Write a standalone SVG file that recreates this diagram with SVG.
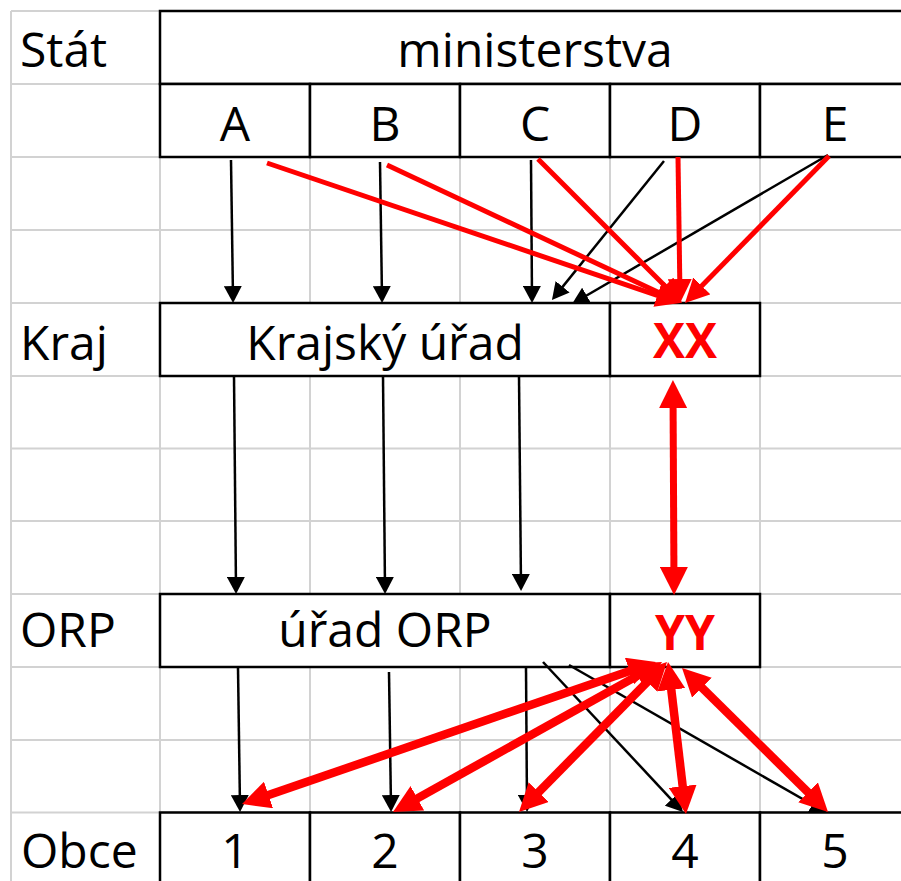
<svg xmlns="http://www.w3.org/2000/svg" width="901" height="881" viewBox="0 0 901 881">
<style>
.grid{stroke:#d2d2d2;stroke-width:2;fill:none}
.box{fill:#fff;stroke:#000;stroke-width:2.5}
.t{font-family:"Open Sans","Noto Sans","Liberation Sans",sans-serif;font-size:48px;fill:#000}
.c{text-anchor:middle}
.r{fill:#ff0000;font-weight:bold}
.blk{stroke:#000;stroke-width:2.5;fill:none;marker-end:url(#hb)}
.red{stroke:#ff0000;stroke-width:5;fill:none;marker-end:url(#hr)}
.red2{stroke:#ff0000;stroke-width:8.5;fill:none;marker-start:url(#hR);marker-end:url(#hR)}
</style>
<defs>
<marker id="hb" viewBox="0 0 17 18" refX="12" refY="9" markerWidth="17" markerHeight="18" markerUnits="userSpaceOnUse" orient="auto"><path d="M0,0 L17,9 L0,18 z" fill="#000"/></marker>
<marker id="hr" viewBox="0 0 24 24" refX="17" refY="12" markerWidth="24" markerHeight="24" markerUnits="userSpaceOnUse" orient="auto"><path d="M0,0 L24,12 L0,24 z" fill="#ff0000"/></marker>
<marker id="hR" viewBox="0 0 28 28" refX="18" refY="14" markerWidth="28" markerHeight="28" markerUnits="userSpaceOnUse" orient="auto-start-reverse"><path d="M0,0 L28,14 L0,28 z" fill="#ff0000"/></marker>
</defs>
<rect width="901" height="881" fill="#fff"/>
<g id="grid" class="grid">
<path d="M11,11V881M160,11V881M310,11V881M460,11V881M610,11V881M760,11V881"/>
<path d="M11,11H901M11,84H901M11,157H901M11,230H901M11,303H901M11,376H901M11,448.5H901M11,521H901M11,594H901M11,667H901M11,740H901M11,812.5H901"/>
</g>
<g id="labels">
<text class="t" x="20" y="67">Stát</text>
<text class="t" x="20" y="360">Kraj</text>
<text class="t" x="20" y="647">ORP</text>
<text class="t" x="21" y="868">Obce</text>
</g>
<g id="ministerstva"><rect class="box" x="160" y="11" width="760" height="73"/><text class="t c" x="535" y="67">ministerstva</text></g>
<g id="A"><rect class="box" x="160" y="84" width="150" height="73"/><text class="t c" x="235" y="141">A</text></g>
<g id="B"><rect class="box" x="310" y="84" width="150" height="73"/><text class="t c" x="385" y="141">B</text></g>
<g id="C"><rect class="box" x="460" y="84" width="150" height="73"/><text class="t c" x="535" y="141">C</text></g>
<g id="D"><rect class="box" x="610" y="84" width="150" height="73"/><text class="t c" x="685" y="141">D</text></g>
<g id="E"><rect class="box" x="760" y="84" width="160" height="73"/><text class="t c" x="835" y="141">E</text></g>
<g id="kraj"><rect class="box" x="160" y="303" width="450" height="73"/><text class="t c" x="385" y="360">Krajský úřad</text></g>
<g id="XX"><rect class="box" x="610" y="303" width="150" height="73"/><text class="t c r" x="685" y="358">XX</text></g>
<g id="orp"><rect class="box" x="160" y="594" width="450" height="73"/><text class="t c" x="385" y="647">úřad ORP</text></g>
<g id="YY"><rect class="box" x="610" y="594" width="150" height="73"/><text class="t c r" x="685" y="650">YY</text></g>
<g id="o1"><rect class="box" x="160" y="812.5" width="150" height="80"/><text class="t c" x="235" y="868">1</text></g>
<g id="o2"><rect class="box" x="310" y="812.5" width="150" height="80"/><text class="t c" x="385" y="868">2</text></g>
<g id="o3"><rect class="box" x="460" y="812.5" width="150" height="80"/><text class="t c" x="535" y="868">3</text></g>
<g id="o4"><rect class="box" x="610" y="812.5" width="150" height="80"/><text class="t c" x="685" y="868">4</text></g>
<g id="o5"><rect class="box" x="760" y="812.5" width="160" height="80"/><text class="t c" x="835" y="868">5</text></g>
<g id="connectors">
<path class="blk" d="M231,160 L233,298"/>
<path class="blk" d="M380,162 L382,298"/>
<path class="blk" d="M531,160 L532,298"/>
<path class="blk" d="M664,161 L555.1,296.1"/>
<path class="blk" d="M828,155 L576.3,301.5"/>
<path class="blk" d="M234,376 L236,589"/>
<path class="blk" d="M383,376 L385,589"/>
<path class="blk" d="M519,376 L521,586"/>
<path class="blk" d="M238,668 L240,807"/>
<path class="blk" d="M389,672 L391,807"/>
<path class="blk" d="M526,668 L527,807"/>
<path class="blk" d="M543,662 L679.6,808.3"/>
<path class="blk" d="M569,665 L822.7,810.5"/>
<path class="red" d="M267,163 L673.4,300.8"/>
<path class="red" d="M387,165 L674.7,300"/>
<path class="red" d="M538,159 L677,298"/>
<path class="red" d="M678,157 L680,296"/>
<path class="red" d="M829,156 L689.9,298"/>
<path class="red2" d="M673,390 L674,585" style="stroke-width:7"/>
<path class="red2" d="M646.5,665.2 L251.5,800.8"/>
<path class="red2" d="M653.3,666.9 L401.7,807.1"/>
<path class="red2" d="M660,669.1 L526,804.9"/>
<path class="red2" d="M669.2,671.9 L684.8,804.1"/>
<path class="red2" d="M689.1,675 L820.9,805"/>
</g>
</svg>
